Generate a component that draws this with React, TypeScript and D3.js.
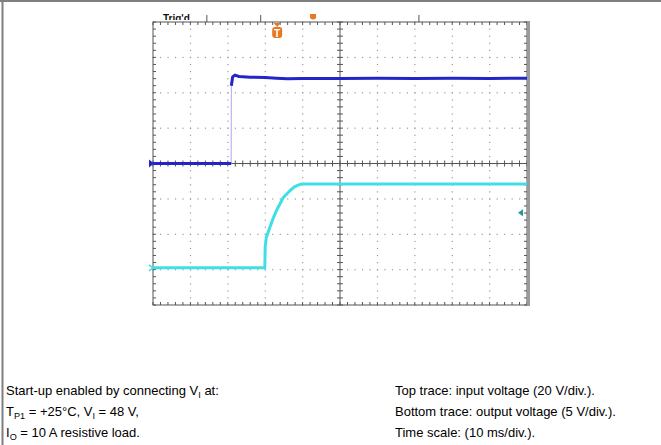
import React from "react";
import * as d3 from "d3";

// Time axis (ms), 10 ms/div, 10 divisions
const timeDomain = [0, 100];
// Channel 1: input voltage, 20 V/div, ground at centre
const ch1Domain = [-80, 80];
const ch1Time = [0, 20.9, 20.95, 21.3, 21.9, 23, 26, 30, 33, 36, 40, 50, 60, 70, 80, 90, 100];
const ch1Volt = [0, 0, 44, 49, 50, 49.2, 48.8, 48.6, 48.2, 47.9, 48.0, 48.1, 48.2, 48.1, 48.2, 48.1, 48.2];
// Channel 2: output voltage, 5 V/div
const ch2Domain = [-5.25, 34.75];
const ch2Time = [0, 29.9, 30.0, 30.3, 31.3, 32.2, 33.1, 34.0, 34.8, 35.7, 36.6, 37.7, 38.8, 39.8, 41, 100];
const ch2Volt = [0, 0, 3.0, 4.3, 5.8, 7.1, 8.2, 9.1, 9.9, 10.4, 10.9, 11.4, 11.7, 11.85, 11.85, 11.85];
// Markers
const triggerTime = 33.2;
const triggerLevel = 7.8; // ch2 volts
const topTickTimes = [14.4, 28.8, 71.1];
const cursorTime = 42.8;

const leftLines = [
  [{ t: "Start-up enabled by connecting V" }, { t: "I", sub: true }, { t: " at:" }],
  [{ t: "T" }, { t: "P1", sub: true }, { t: " = +25°C, V" }, { t: "I", sub: true }, { t: " = 48 V," }],
  [{ t: "I" }, { t: "O", sub: true }, { t: " = 10 A resistive load." }],
];
const rightLines = [
  "Top trace: input voltage (20 V/div.).",
  "Bottom trace: output voltage (5 V/div.).",
  "Time scale: (10 ms/div.).",
];

export default function App() {
  const L = 153, R = 527, T = 22, B = 305;
  const x = d3.scaleLinear().domain(timeDomain).range([L, R]);
  const y1 = d3.scaleLinear().domain(ch1Domain).range([B, T]);
  const y2 = d3.scaleLinear().domain(ch2Domain).range([B, T]);
  const xMajor = d3.range(0, 101, 10).map((v) => x(v));
  const xMinor = d3.range(0, 100.001, 2).map((v) => x(v));
  const yMajor = d3.range(-80, 80.001, 20).map((v) => y1(v));
  const yMinor = d3.range(-80, 80.001, 4).map((v) => y1(v));
  const cx = x(50), cy = y1(0);

  const line1 = d3.line<number>().x((_, i) => x(ch1Time[i])).y((v) => y1(v));
  const line2 = d3.line<number>().x((_, i) => x(ch2Time[i])).y((v) => y2(v));
  const ch1Pre = d3.line<number>().x((_, i) => x(ch1Time[i])).y((v) => y1(v))(ch1Volt.slice(0, 2));
  const ch1Post = d3
    .line<number>()
    .x((_, i) => x(ch1Time[i + 2]))
    .y((v) => y1(v))(ch1Volt.slice(2));

  const dots: JSX.Element[] = [];
  xMajor.slice(1, -1).forEach((gx, i) => {
    if (Math.abs(gx - cx) < 1) return;
    yMinor.forEach((gy, j) => dots.push(<rect key={`v${i}-${j}`} x={gx - 0.5} y={gy - 0.5} width={1.2} height={1.2} fill="#9a9a9a" />));
  });
  yMajor.slice(1, -1).forEach((gy, i) => {
    if (Math.abs(gy - cy) < 1) return;
    xMinor.forEach((gx, j) => dots.push(<rect key={`h${i}-${j}`} x={gx - 0.5} y={gy - 0.5} width={1.2} height={1.2} fill="#9a9a9a" />));
  });

  const ticks: JSX.Element[] = [];
  xMinor.forEach((gx, j) => {
    ticks.push(<line key={`ct${j}`} x1={gx} x2={gx} y1={cy - 3} y2={cy + 3} stroke="#555" strokeWidth={1} />);
    ticks.push(<line key={`tt${j}`} x1={gx} x2={gx} y1={T} y2={T + 3} stroke="#555" strokeWidth={1} />);
    ticks.push(<line key={`bt${j}`} x1={gx} x2={gx} y1={B - 3} y2={B} stroke="#555" strokeWidth={1} />);
  });
  yMinor.forEach((gy, j) => {
    ticks.push(<line key={`cv${j}`} x1={cx - 3} x2={cx + 3} y1={gy} y2={gy} stroke="#555" strokeWidth={1} />);
    ticks.push(<line key={`lt${j}`} x1={L} x2={L + 3} y1={gy} y2={gy} stroke="#555" strokeWidth={1} />);
    ticks.push(<line key={`rt${j}`} x1={R - 3} x2={R} y1={gy} y2={gy} stroke="#555" strokeWidth={1} />);
  });

  const font = "'Liberation Sans', Arial, sans-serif";
  const fs = 13;
  const lx = 6, rx = 395;
  const base = [395, 416, 437];
  const tx = x(triggerTime);
  const ty = y2(triggerLevel);

  return (
    <svg width={661} height={445} style={{ position: "absolute", left: 0, top: 0, background: "#fff" }}>
      <defs>
        <clipPath id="topclip">
          <rect x={150} y={14} width={60} height={6} />
        </clipPath>
      </defs>
      {/* outer frame */}
      <line x1={0} x2={661} y1={1} y2={1} stroke="#7f7f7f" strokeWidth={2} />
      <line x1={2.5} x2={2.5} y1={0} y2={445} stroke="#7f7f7f" strokeWidth={2} />

      {/* grid */}
      {dots}
      <line x1={L} x2={R} y1={cy} y2={cy} stroke="#555" strokeWidth={1} />
      <line x1={cx} x2={cx} y1={T} y2={B} stroke="#555" strokeWidth={1} />
      {ticks}
      <rect x={L} y={T} width={R - L} height={B - T} fill="none" stroke="#555" strokeWidth={1} />
      <line x1={R + 1.5} x2={R + 1.5} y1={T - 1} y2={B + 1} stroke="#9a9a9a" strokeWidth={3} />

      {/* top markers */}
      <text x={163} y={22} fontFamily={font} fontSize={10} fontWeight="bold" fill="#111" clipPath="url(#topclip)">Trig'd</text>
      {topTickTimes.map((t, i) => (
        <line key={`tm${i}`} x1={x(t)} x2={x(t)} y1={15} y2={T} stroke="#555" strokeWidth={1} />
      ))}
      <path d={`M${x(cursorTime) - 3},14 L${x(cursorTime) + 3},14 L${x(cursorTime) + 3},18 Q${x(cursorTime)},21 ${x(cursorTime) - 3},18 Z`} fill="#e87722" />
      <path d={`M${tx - 3.5},${T + 1} L${tx + 3.5},${T + 1} L${tx},${T + 5} Z`} fill="#e87722" />
      <rect x={tx - 5} y={T + 5} width={10} height={11} rx={3} fill="#e87722" />
      <text x={tx} y={T + 14.5} textAnchor="middle" fontFamily={font} fontSize={10} fontWeight="bold" fill="#fff">T</text>

      {/* traces */}
      <path d={line2(ch2Volt) || ""} fill="none" stroke="#3ee0e6" strokeWidth={3} strokeLinejoin="round" />
      <path d={line1(ch1Volt) || ""} fill="none" stroke="#a8a8ff" strokeWidth={1} />
      <path d={ch1Pre || ""} fill="none" stroke="#2424c8" strokeWidth={3} />
      <path d={ch1Post || ""} fill="none" stroke="#2424c8" strokeWidth={3} strokeLinejoin="round" />

      {/* channel markers */}
      <path d={`M${L - 4},${cy - 4} L${L + 1},${cy} L${L - 4},${cy + 4} Z`} fill="#2424c8" />
      <path d={`M${L - 4},${y2(0) - 3} L${L},${y2(0)} L${L - 4},${y2(0) + 3}`} fill="none" stroke="#3ee0e6" strokeWidth={1.5} />
      <path d={`M${R - 4},${ty} L${R - 9},${ty - 3.5} L${R - 9},${ty + 3.5} Z`} transform={`rotate(180 ${R - 6.5} ${ty})`} fill="#1a9a9a" />

      {/* captions */}
      {leftLines.map((parts, i) => (
        <text key={`l${i}`} x={lx} y={base[i]} fontFamily={font} fontSize={fs} fill="#000">
          {parts.map((p, j) =>
            p.sub ? (
              <tspan key={j} fontSize={fs * 0.7} dy={3}>{p.t}</tspan>
            ) : (
              <tspan key={j} dy={j > 0 && parts[j - 1].sub ? -3 : 0}>{p.t}</tspan>
            )
          )}
        </text>
      ))}
      {rightLines.map((s, i) => (
        <text key={`r${i}`} x={rx} y={base[i]} fontFamily={font} fontSize={fs} fill="#000">{s}</text>
      ))}
    </svg>
  );
}
